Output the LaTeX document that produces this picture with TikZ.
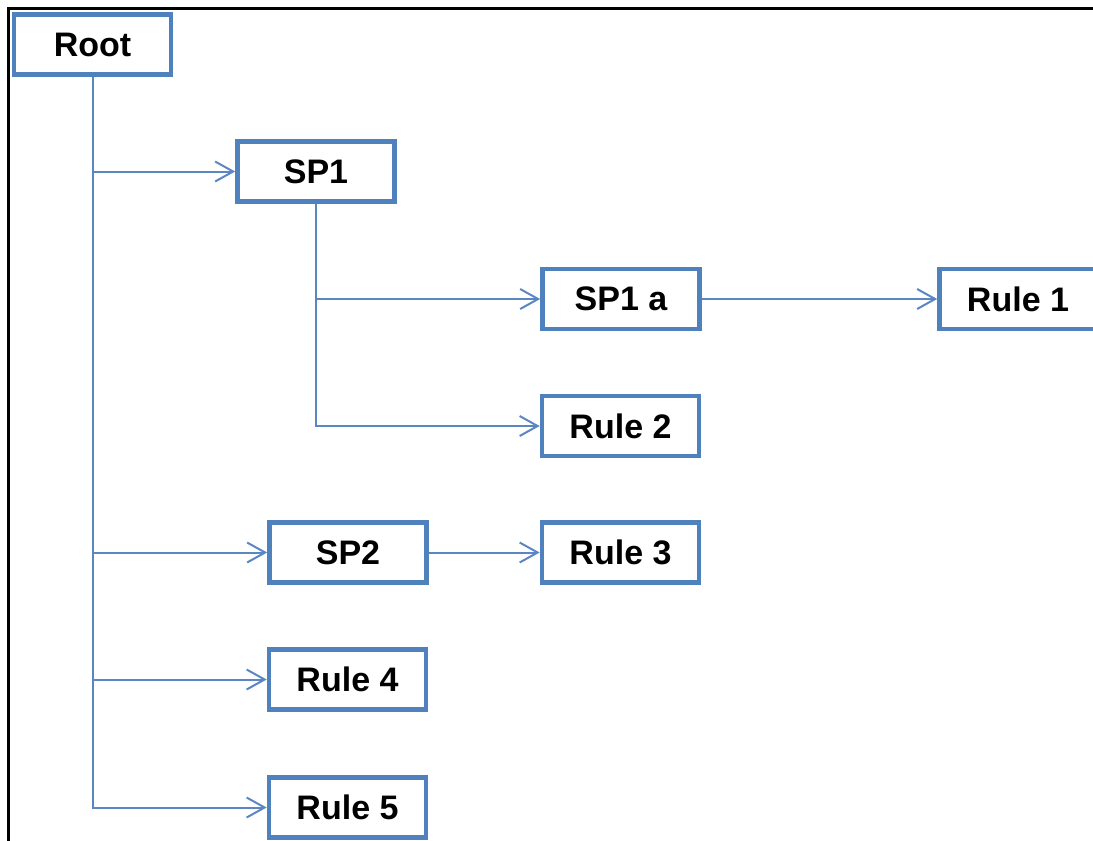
\documentclass[tikz,border=0pt]{standalone}
\usepackage{fontspec}
\setmainfont{Liberation Sans}
\usetikzlibrary{arrows.meta}
\definecolor{boxblue}{HTML}{4F81BD}
\definecolor{lineblue}{HTML}{5A86C3}
\tikzset{
    treebox/.style={draw=boxblue, line width=2.3pt, minimum width=78.5pt, minimum height=30pt,
        inner sep=0pt, font=\fontsize{17}{19}\selectfont\bfseries},
    branch/.style={draw=lineblue, line width=1pt, -{Straight Barb[length=9pt,width=10pt]}}
}
\begin{document}
\begin{tikzpicture}[x=0.5pt, y=-0.5pt]
    \useasboundingbox (0, 0) rectangle (1093, 841);
    \clip (0, 0) rectangle (1093, 841);
    % Frame
    \draw[line width=1.9pt] (8.5, 841) -- (8.5, 8.5) -- (1093, 8.5);
    % Boxes
    \node[treebox] (root) at (92.5, 44.5) {Root};
    \node[treebox] (sp1) at (316, 171.5) {SP1};
    \node[treebox] (sp1a) at (621, 299) {SP1 a};
    \node[treebox] (rule1) at (1018, 299) {Rule 1};
    \node[treebox] (rule2) at (620.5, 426) {Rule 2};
    \node[treebox] (sp2) at (348, 552.5) {SP2};
    \node[treebox] (rule3) at (620.5, 552.5) {Rule 3};
    \node[treebox] (rule4) at (347.5, 679.5) {Rule 4};
    \node[treebox] (rule5) at (347.5, 807.5) {Rule 5};
    % Branches from the root
    \foreach \child in {sp1, sp2, rule4, rule5}
    {
        \draw[branch] (root.south) |- (\child.west);
    }
    % Branches from SP1
    \draw[branch] (sp1.south) |- (sp1a.west);
    \draw[branch] (sp1.south) |- (rule2.west);
    % Leaves
    \draw[branch] (sp1a.east) -- (rule1.west);
    \draw[branch] (sp2.east) -- (rule3.west);
\end{tikzpicture}
\end{document}
